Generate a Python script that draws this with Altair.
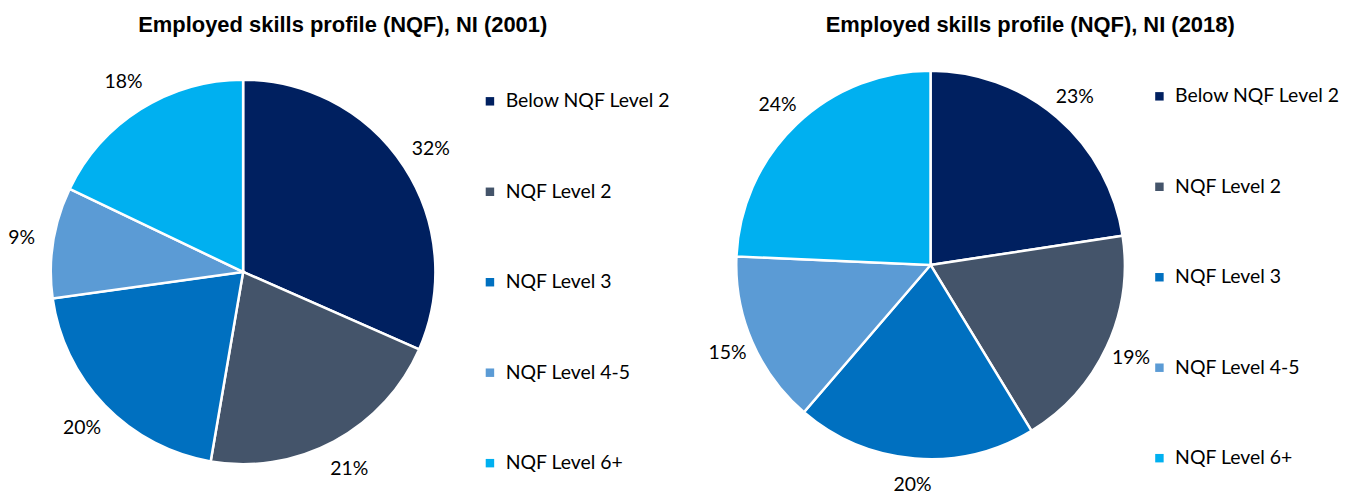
import altair as alt
import pandas as pd

categories = ["Below NQF Level 2", "NQF Level 2", "NQF Level 3", "NQF Level 4-5", "NQF Level 6+"]
colors = ["#002060", "#44546A", "#0070C0", "#5B9BD5", "#00B0F0"]
shares_2001 = [31.6, 21.1, 20.1, 9.3, 17.9]
labels_2001 = ["32%", "21%", "20%", "9%", "18%"]
shares_2018 = [22.6, 18.7, 20.0, 14.4, 24.3]
labels_2018 = ["23%", "19%", "20%", "15%", "24%"]
titles = ["Employed skills profile (NQF), NI (2001)", "Employed skills profile (NQF), NI (2018)"]

H = 440
FS = 19.5


def panel(shares, labels, title, width, cx, cy, r, lr, lx, ly, tdx):
    df = pd.DataFrame({"cat": categories, "share": shares, "label": labels,
                       "order": list(range(len(categories)))})
    base = alt.Chart(df)
    arc = base.mark_arc(outerRadius=r, stroke="white", strokeWidth=2.5).encode(
        theta=alt.Theta("share:Q", stack=True),
        order=alt.Order("order:Q"),
        color=alt.Color(
            "cat:N",
            sort=categories,
            scale=alt.Scale(domain=categories, range=colors),
            legend=alt.Legend(
                title=None, orient="none", legendX=lx, legendY=ly, direction="vertical",
                symbolType="square", symbolSize=72, symbolStrokeWidth=0,
                labelFont="Lato", labelFontSize=FS, labelColor="#000000", labelLimit=400,
                rowPadding=69.8, labelOffset=6, padding=0,
            ),
        ),
        x=alt.value(cx),
        y=alt.value(cy),
    )
    text = base.mark_text(radius=lr, font="Lato", fontSize=FS, color="#000000").encode(
        theta=alt.Theta("share:Q", stack=True),
        order=alt.Order("order:Q"),
        text="label:N",
        x=alt.value(cx),
        y=alt.value(cy),
    )
    return alt.layer(arc, text).properties(
        width=width, height=H,
        title=alt.TitleParams(title, font="Liberation Sans", fontSize=22, fontWeight="bold",
                              color="#000000", anchor="middle", dx=tdx, offset=10),
    )


p1 = panel(shares_2001, labels_2001, titles[0], 664, 234, 226, 193, 225, 472, 45, 2)
p2 = panel(shares_2018, labels_2018, titles[1], 660, 260, 219, 195, 222, 480, 40, 30)

chart = alt.hconcat(p1, p2, spacing=0).resolve_scale(color="independent", theta="independent").resolve_legend(
    color="independent"
).properties(
    padding={"left": 0, "top": 5, "right": 0, "bottom": 0}
).configure_view(stroke=None)

chart.save("out.html", embed_options={"renderer": "svg", "actions": False})
